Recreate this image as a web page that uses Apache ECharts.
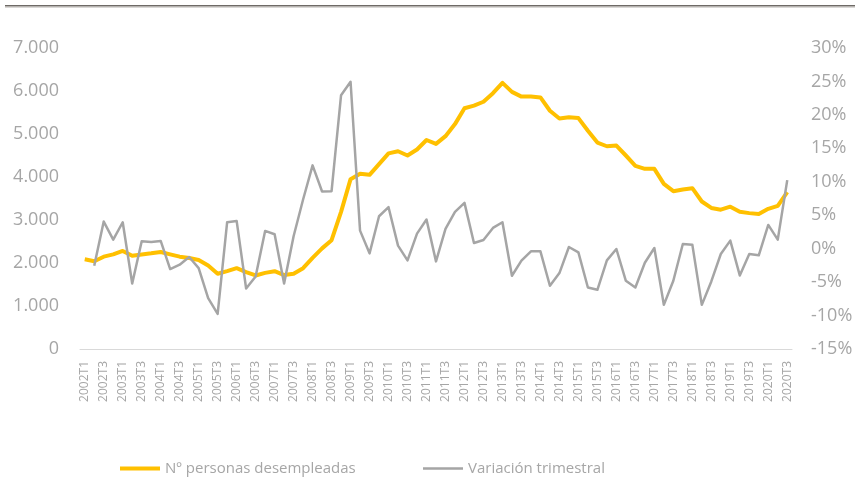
<!DOCTYPE html>
<html>
<head>
<meta charset="utf-8">
<script src="https://cdn.jsdelivr.net/npm/echarts@6/dist/echarts.min.js"></script>
<style>html,body{margin:0;padding:0;background:#fff}#c{width:860px;height:477px}</style>
</head>
<body>
<div id="c"></div>
<script>
var categories = ["2002T1","2002T2","2002T3","2002T4","2003T1","2003T2","2003T3","2003T4","2004T1","2004T2","2004T3","2004T4","2005T1","2005T2","2005T3","2005T4","2006T1","2006T2","2006T3","2006T4","2007T1","2007T2","2007T3","2007T4","2008T1","2008T2","2008T3","2008T4","2009T1","2009T2","2009T3","2009T4","2010T1","2010T2","2010T3","2010T4","2011T1","2011T2","2011T3","2011T4","2012T1","2012T2","2012T3","2012T4","2013T1","2013T2","2013T3","2013T4","2014T1","2014T2","2014T3","2014T4","2015T1","2015T2","2015T3","2015T4","2016T1","2016T2","2016T3","2016T4","2017T1","2017T2","2017T3","2017T4","2018T1","2018T2","2018T3","2018T4","2019T1","2019T2","2019T3","2019T4","2020T1","2020T2","2020T3"];

var desempleados = [2086,2040,2147,2200,2280,2170,2200,2225,2256,2200,2147,2116,2070,1940,1750,1810,1880,1790,1710,1770,1810,1720,1750,1880,2120,2340,2530,3190,3950,4075,4050,4300,4550,4600,4500,4640,4860,4770,4950,5230,5600,5660,5750,5950,6190,5980,5870,5870,5850,5540,5360,5390,5370,5075,4800,4715,4730,4500,4260,4190,4190,3840,3670,3710,3740,3430,3280,3240,3310,3190,3160,3140,3260,3330,3650];

var variacion = [null,-2.55,4.05,1.35,3.95,-5.2,1.1,1.0,1.15,-3.05,-2.4,-1.25,-2.9,-7.4,-9.75,3.95,4.15,-5.95,-4.15,2.65,2.15,-5.2,1.85,7.35,12.45,8.55,8.6,22.95,24.95,2.7,-0.7,4.85,6.2,0.45,-1.75,2.25,4.35,-1.9,2.95,5.5,6.85,0.85,1.3,3.1,3.95,-4.05,-1.8,-0.4,-0.4,-5.55,-3.65,0.25,-0.55,-5.8,-6.15,-1.75,-0.05,-4.8,-5.8,-2.1,0.1,-8.4,-4.8,0.7,0.6,-8.4,-4.9,-0.8,1.2,-4.0,-0.8,-1.0,3.55,1.35,10.25];

var seriesNames = ["Nº personas desempleadas", "Variación trimestral"];

var chart = echarts.init(document.getElementById('c'), null, {renderer: 'canvas'});
var labelColor = '#a6a6a6';
var font = '"Open Sans", "Noto Sans", sans-serif';

chart.setOption({
  animation: false,
  backgroundColor: '#ffffff',
  textStyle: {fontFamily: font},
  graphic: [
    {type: 'rect', shape: {x: 5, y: 5, width: 850, height: 1.5}, style: {fill: '#6e6a66'}, silent: true},
    {type: 'rect', shape: {x: 5, y: 6.5, width: 850, height: 1}, style: {fill: '#b5b1ad'}, silent: true}
  ],
  grid: {left: 80, right: 68, top: 48, bottom: 128, containLabel: false},
  legend: [
    {
      left: 115, top: 456,
      data: [{name: seriesNames[0], icon: 'rect'}],
      itemWidth: 40, itemHeight: 4, itemGap: 0,
      textStyle: {color: labelColor, fontSize: 15, fontFamily: font}
    },
    {
      left: 418, top: 456,
      data: [{name: seriesNames[1], icon: 'rect'}],
      itemWidth: 40, itemHeight: 2.5, itemGap: 0,
      textStyle: {color: labelColor, fontSize: 15, fontFamily: font}
    }
  ],
  xAxis: {
    type: 'category',
    data: categories,
    boundaryGap: true,
    axisLine: {show: true, lineStyle: {color: '#d9d9d9', width: 1}},
    axisTick: {show: false},
    axisLabel: {
      interval: 1, rotate: 90, margin: 12,
      color: labelColor, fontSize: 12, fontFamily: font
    },
    splitLine: {show: false}
  },
  yAxis: [
    {
      type: 'value', min: 0, max: 7000, interval: 1000, position: 'left',
      axisLine: {show: false}, axisTick: {show: false}, splitLine: {show: false},
      axisLabel: {
        color: labelColor, fontSize: 18, margin: 21, fontFamily: font,
        formatter: function (v) { return v === 0 ? '0' : (v / 1000).toFixed(0) + '.000'; }
      }
    },
    {
      type: 'value', min: -15, max: 30, interval: 5, position: 'right',
      axisLine: {show: false}, axisTick: {show: false}, splitLine: {show: false},
      axisLabel: {
        color: labelColor, fontSize: 18, margin: 19, fontFamily: font,
        formatter: function (v) { return v + '%'; }
      }
    }
  ],
  series: [
    {
      name: seriesNames[0], type: 'line', yAxisIndex: 0,
      data: desempleados, symbol: 'none', showSymbol: false,
      lineStyle: {color: '#ffc000', width: 4, join: 'round'},
      itemStyle: {color: '#ffc000'}
    },
    {
      name: seriesNames[1], type: 'line', yAxisIndex: 1,
      data: variacion, symbol: 'none', showSymbol: false, connectNulls: false,
      lineStyle: {color: '#a5a5a5', width: 2.5, join: 'round'},
      itemStyle: {color: '#a5a5a5'}
    }
  ]
});
</script>
</body>
</html>
